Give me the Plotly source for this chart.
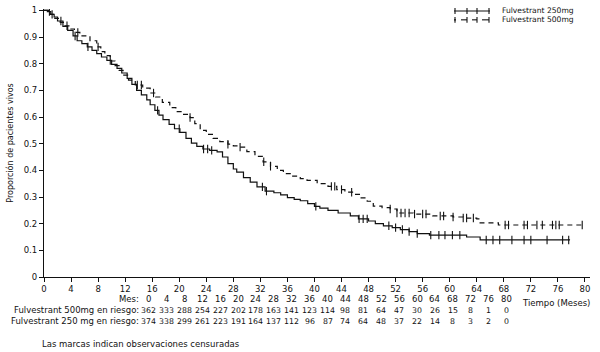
import numpy as np
import plotly.graph_objects as go

# ---- Data ----
t250 = [0, 0.5, 1, 1.5, 2, 2.8, 3.5, 4.3, 4.9, 5.6, 6.4, 7.1, 7.8, 8.5, 9.3, 10, 10.8, 11.5, 12.3, 13,
        13.7, 14.4, 15.2, 15.7, 16.4, 17, 17.6, 18.5, 19.3, 20.1, 21, 21.8, 22.6, 23.5, 24.5, 25.6, 26.4,
        27.2, 28, 28.5, 29.5, 30.5, 31.5, 32.7, 34, 35, 36, 37, 37.9, 39, 40, 40.8, 42, 43.5, 45.3, 46.5,
        48, 49, 50.2, 51.5, 52.7, 54, 55.2, 57, 62.5, 64.5, 77.8]
s250 = [1.0, 0.995, 0.985, 0.975, 0.96, 0.94, 0.925, 0.904, 0.886, 0.875, 0.863, 0.85, 0.838, 0.825, 0.812,
        0.797, 0.782, 0.765, 0.745, 0.722, 0.70, 0.683, 0.664, 0.646, 0.625, 0.607, 0.59, 0.572, 0.556,
        0.542, 0.52, 0.502, 0.49, 0.48, 0.475, 0.469, 0.45, 0.425, 0.405, 0.393, 0.373, 0.356, 0.338, 0.322,
        0.316, 0.308, 0.298, 0.291, 0.286, 0.275, 0.265, 0.258, 0.25, 0.24, 0.229, 0.218, 0.21, 0.2, 0.192,
        0.185, 0.178, 0.17, 0.163, 0.157, 0.15, 0.139, 0.139]

t500 = [0, 0.9, 1.6, 2.4, 3.1, 3.8, 4.5, 5.3, 6.8, 7.8, 8.4, 9, 9.8, 10.5, 11.1, 11.7, 12.5, 13.5, 14.6,
        15.7, 16.5, 17.5, 18.6, 19.5, 20.5, 21.6, 22.3, 23.1, 24, 25, 26, 27.2, 28, 29, 30, 31.2, 32.4, 33.5,
        34.5, 35.4, 36.5, 37.9, 38.9, 40.4, 42, 43.3, 44.5, 45.8, 46.8, 47.8, 48.7, 50, 51.2, 52.2, 54.6,
        57.5, 60.5, 62, 64, 64.5, 67.2, 79.6]
s500 = [1.0, 0.985, 0.97, 0.955, 0.942, 0.93, 0.917, 0.904, 0.886, 0.863, 0.845, 0.83, 0.81, 0.793, 0.775,
        0.757, 0.738, 0.72, 0.708, 0.69, 0.675, 0.655, 0.635, 0.62, 0.61, 0.598, 0.575, 0.55, 0.535, 0.52,
        0.508, 0.498, 0.492, 0.487, 0.47, 0.452, 0.432, 0.415, 0.4, 0.388, 0.378, 0.369, 0.362, 0.35, 0.34,
        0.328, 0.318, 0.31, 0.297, 0.284, 0.266, 0.26, 0.255, 0.24, 0.236, 0.229, 0.225, 0.221, 0.218,
        0.203, 0.195, 0.195]

cens250 = [0.8, 2.5, 4.6, 6.5, 9.8, 16.8, 20.0, 23.6, 24.2, 24.8, 32.3, 32.9, 40.2, 46.6, 47.2, 47.8,
           51.0, 52.0, 53.0, 54.0, 55.2, 57.2, 58.4, 59.3, 60.4, 61.5, 65.4, 66.4, 67.4, 69.2, 71.0, 72.0,
           74.4, 76.7, 77.6]
cens500 = [1.2, 3.4, 5.0, 8.0, 13.8, 14.4, 16.2, 21.6, 27.2, 29.0, 32.5, 33.5, 42.5, 43.0, 44.0, 45.5,
           51.2, 52.2, 52.8, 53.4, 54.0, 54.8, 56.0, 56.5, 58.6, 59.1, 60.5, 62.0, 62.5, 63.5, 68.2, 68.7,
           71.0, 71.5, 72.9, 73.7, 75.2, 75.7, 76.2, 79.6]

months = [0, 4, 8, 12, 16, 20, 24, 28, 32, 36, 40, 44, 48, 52, 56, 60, 64, 68, 72, 76, 80]
risk500 = [362, 333, 288, 254, 227, 202, 178, 163, 141, 123, 114, 98, 81, 64, 47, 30, 26, 15, 8, 1, 0]
risk250 = [374, 338, 299, 261, 223, 191, 164, 137, 112, 96, 87, 74, 64, 48, 37, 22, 14, 8, 3, 2, 0]

series_names = ["Fulvestrant 250mg", "Fulvestrant 500mg"]

ytick_vals = [0, 0.1, 0.2, 0.3, 0.4, 0.5, 0.6, 0.7, 0.8, 0.9, 1]
ytick_text = ["0", "0.1", "0.2", "0.3", "0.4", "0.5", "0.6", "0.7", "0.8", "0.9", "1"]


def step_value(times, vals, t):
    i = np.searchsorted(np.array(times), np.array(t), side="right") - 1
    return list(np.array(vals)[i])


FONT = "DejaVu Sans"
INK = "#111111"

fig = go.Figure()
fig.add_trace(go.Scatter(x=t250, y=s250, mode="lines", line=dict(color=INK, width=1.2, shape="hv"),
                         name=series_names[0], showlegend=False, hoverinfo="skip"))
fig.add_trace(go.Scatter(x=t500, y=s500, mode="lines",
                         line=dict(color=INK, width=1.2, shape="hv", dash="5px,4px"),
                         name=series_names[1], showlegend=False, hoverinfo="skip"))
fig.add_trace(go.Scatter(x=cens250, y=step_value(t250, s250, cens250), mode="markers",
                         marker=dict(symbol="line-ns", size=6, line=dict(color=INK, width=1.1)),
                         showlegend=False))
fig.add_trace(go.Scatter(x=cens500, y=step_value(t500, s500, cens500), mode="markers",
                         marker=dict(symbol="line-ns", size=6, line=dict(color=INK, width=1.1)),
                         showlegend=False))

L, R, T, B = 44, 10, 5, 75
W, H = 600, 352
pw, ph = W - L - R, H - T - B


def px(x):
    return (x - L) / pw


def py(y):
    return (H - B - y) / ph


ann = []
fs = 8.5
ann.append(dict(x=px(141), y=py(299), text="Mes:", xanchor="right", yanchor="middle", showarrow=False))
ann.append(dict(x=px(141), y=py(310.5), text="Fulvestrant 500mg en riesgo:", xanchor="right",
                yanchor="middle", showarrow=False))
ann.append(dict(x=px(141), y=py(322), text="Fulvestrant 250 mg en riesgo:", xanchor="right",
                yanchor="middle", showarrow=False))
for i, m in enumerate(months):
    cx = 148.5 + 17.9 * i
    ann.append(dict(x=px(cx), y=py(299), text=str(m), xanchor="center", yanchor="middle", showarrow=False))
    ann.append(dict(x=px(cx), y=py(310.5), text=str(risk500[i]), xanchor="center", yanchor="middle",
                    showarrow=False, font_size=7.8))
    ann.append(dict(x=px(cx), y=py(322), text=str(risk250[i]), xanchor="center", yanchor="middle",
                    showarrow=False, font_size=7.8))
ann.append(dict(x=px(556), y=py(303.5), text="Tiempo (Meses)", xanchor="center", yanchor="middle",
                showarrow=False))
ann.append(dict(x=px(40), y=py(345), text="Las marcas indican observaciones censuradas", xanchor="left",
                yanchor="middle", showarrow=False))

# legend (drawn as decoration)
shapes = []
leg_rows = [(7, "solid"), (16, "dash")]
for (ly, dsh), nm in zip(leg_rows, series_names):
    if dsh == "solid":
        shapes.append(dict(type="line", x0=px(454), x1=px(490), y0=py(ly), y1=py(ly)))
    else:
        for a, b in [(454, 456), (461, 467), (472, 477), (482, 489)]:
            shapes.append(dict(type="line", x0=px(a), x1=px(b), y0=py(ly), y1=py(ly)))
    for tx in [455, 467, 477, 489]:
        shapes.append(dict(type="line", x0=px(tx), x1=px(tx), y0=py(ly - 3), y1=py(ly + 3)))
    ann.append(dict(x=px(500), y=py(ly), text=nm, xanchor="left", yanchor="middle", showarrow=False,
                    font_size=7.6))
for s in shapes:
    s["xref"] = "paper"
    s["yref"] = "paper"
    s["line"] = dict(color=INK, width=1.1)

for a in ann:
    a["xref"] = "paper"
    a["yref"] = "paper"
    f = dict(family=FONT, size=a.pop("font_size", fs), color=INK)
    a["font"] = f

fig.update_layout(
    width=W, height=H,
    margin=dict(l=L, r=R, t=T, b=B),
    paper_bgcolor="white", plot_bgcolor="white",
    font=dict(family=FONT, size=fs, color=INK),
    annotations=ann,
    shapes=shapes,
    showlegend=False,
    xaxis=dict(range=[0, 80.75], tickvals=months, ticktext=[str(m) for m in months], showgrid=False,
               zeroline=False, showline=True, linecolor=INK, linewidth=1.2, ticks="outside", ticklen=4,
               tickcolor=INK, tickfont=dict(family=FONT, size=fs, color=INK)),
    yaxis=dict(range=[0, 1.005], tickvals=ytick_vals, ticktext=ytick_text, showgrid=False, zeroline=False,
               showline=True, linecolor=INK, linewidth=1.2, ticks="outside", ticklen=4, tickcolor=INK,
               tickfont=dict(family=FONT, size=fs, color=INK),
               title=dict(text="Proporción de pacientes vivos", font=dict(family=FONT, size=8, color=INK),
                          standoff=8)),
)

fig.write_html("out.html")
